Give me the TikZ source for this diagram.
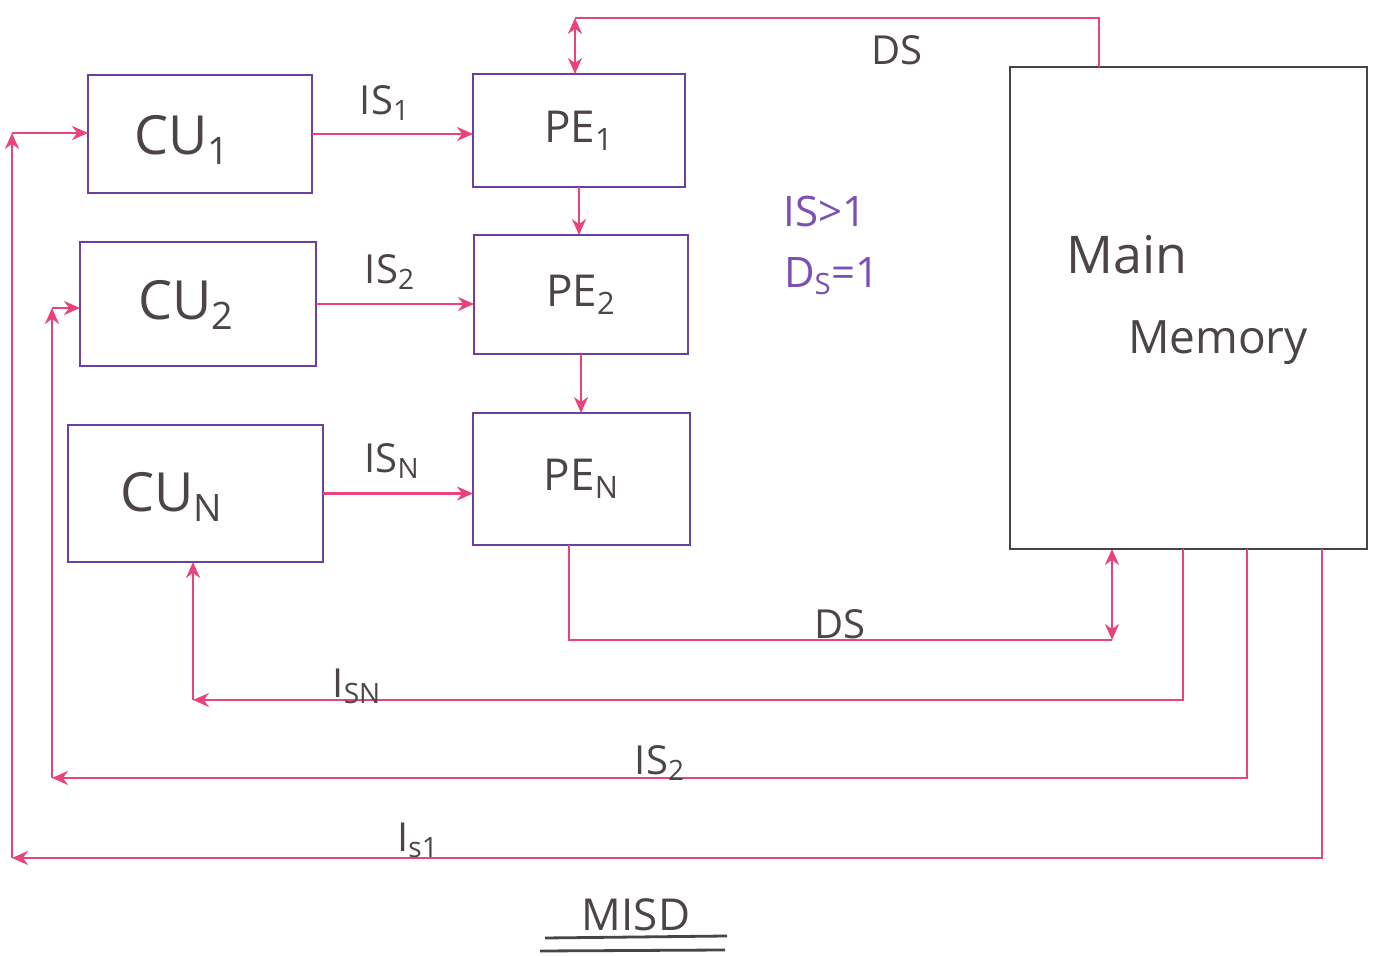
\documentclass[tikz,border=0pt]{standalone}
\usepackage{fontspec}
\setmainfont{Open Sans}
\usetikzlibrary{arrows.meta,calc}
\definecolor{pinkc}{HTML}{E8437A}
\definecolor{boxc}{HTML}{6B3FA0}
\definecolor{memc}{HTML}{4A4545}
\definecolor{txtc}{HTML}{4D4545}
\definecolor{purtxt}{HTML}{7B4FB5}
\begin{document}
\begin{tikzpicture}[x=0.5pt,y=-0.5pt,
  box/.style={draw=boxc,line width=1.4pt,inner sep=0pt,outer sep=0pt,text=txtc},
  membox/.style={draw=memc,line width=1.4pt,inner sep=0pt,outer sep=0pt},
  conn/.style={draw=pinkc,line width=1.2pt},
  tip/.style={-{Stealth[length=8pt,width=7pt]}},
  cutxt/.style={font=\fontsize{27}{32}\selectfont},
  petxt/.style={font=\fontsize{22}{26}\selectfont},
  lbl/.style={text=txtc,font=\fontsize{20}{24}\selectfont,inner sep=1pt},
  plbl/.style={text=purtxt,font=\fontsize{21}{25}\selectfont,inner sep=1pt}]
\useasboundingbox (0,0) rectangle (1373,956);
% boxes
\node[box,minimum width=112pt,minimum height=59pt] (CU1) at (200,134) {};
\node[box,minimum width=118pt,minimum height=62pt] (CU2) at (198,304) {};
\node[box,minimum width=127.5pt,minimum height=68.5pt] (CUN) at (195.5,493.5) {};
\node[box,petxt,minimum width=106pt,minimum height=56.5pt] (PE1) at (579,130.5) {PE\textsubscript{1}};
\node[box,petxt,minimum width=107pt,minimum height=59.5pt] (PE2) at (581,294.5) {PE\textsubscript{2}};
\node[box,petxt,minimum width=108.5pt,minimum height=66pt] (PEN) at (581.5,479) {PE\textsubscript{N}};
\node[membox,minimum width=178.5pt,minimum height=241pt] (MM) at (1188.5,308) {};
\node[text=txtc,cutxt] (cu1t) at (182,140) {CU\textsubscript{1}};
\node[text=txtc,cutxt] (cu2t) at (186,305) {CU\textsubscript{2}};
\node[text=txtc,cutxt] (cunt) at (172,497) {CU\textsubscript{N}};
\node[lbl,font=\fontsize{26}{30}\selectfont] (main) at (1127,255) {Main};
\node[lbl,font=\fontsize{23}{28}\selectfont] (memory) at (1218,343) {Memory};
% CU -> PE
\draw[conn,tip] (CU1.east) -- (CU1.east -| PE1.west);
\draw[conn,tip] (CU2.east) -- (CU2.east -| PE2.west);
\draw[conn,tip] (CUN.east) -- (CUN.east -| PEN.west);
\node[lbl] (l1) at (385,103) {IS\textsubscript{1}};
\node[lbl] (l2) at (390,272) {IS\textsubscript{2}};
\node[lbl] (l3) at (392,461) {IS\textsubscript{N}};
% PE chain
\draw[conn,tip] (PE1.south) -- (PE1.south |- PE2.north);
\draw[conn,tip] (PE2.south) -- (PE2.south |- PEN.north);
% DS top
\coordinate (dsA) at (575,18);
\coordinate (dsB) at (1099,18);
\draw[conn,{Stealth[length=8pt,width=7pt]}-{Stealth[length=8pt,width=7pt]}] (dsA) -- (dsA |- PE1.north);
\draw[conn] (dsA) -- (dsB) -- (dsB |- MM.north);
\node[lbl] (ds1) at (897,50) {DS};
\node[plbl] (is1) at (825,212) {IS>1};
\node[plbl] (ds1b) at (832,276) {D\textsubscript{S}=1};
% DS bottom
\coordinate (pb) at (569,545);
\coordinate (dsC) at (569,640);
\coordinate (dsD) at (1112,640);
\draw[conn] (pb) -- (dsC) -- (dsD);
\draw[conn,{Stealth[length=8pt,width=7pt]}-{Stealth[length=8pt,width=7pt]}] (dsD) -- (dsD |- MM.south);
\node[lbl] (ds2) at (840,624) {DS};
% IS_N return
\coordinate (nA) at (1183,549);
\coordinate (nB) at (1183,700);
\coordinate (nC) at (193,700);
\draw[conn,tip] (nA) -- (nB) -- (nC);
\draw[conn,tip] (nC) -- (nC |- CUN.south);
\node[lbl] (ln) at (357,686) {I\textsubscript{SN}};
% IS_2 return
\coordinate (tA) at (1247,549);
\coordinate (tB) at (1247,778);
\coordinate (tC) at (52,778);
\coordinate (tD) at (52,308);
\draw[conn,tip] (tA) -- (tB) -- (tC);
\draw[conn,tip] (tC) -- (tD);
\draw[conn,tip] (tD) -- (tD -| CU2.west);
\node[lbl] (l22) at (660,763) {IS\textsubscript{2}};
% IS_1 return
\coordinate (oA) at (1322,549);
\coordinate (oB) at (1322,858);
\coordinate (oC) at (12,858);
\coordinate (oD) at (12,133);
\draw[conn,tip] (oA) -- (oB) -- (oC);
\draw[conn,tip] (oC) -- (oD);
\draw[conn,tip] (oD) -- (oD -| CU1.west);
\node[lbl] (l11) at (418,840) {I\textsubscript{s1}};
% title
\node[lbl,font=\fontsize{22}{26}\selectfont] (title) at (636,915) {MISD};
\draw[draw=memc,line width=1.4pt] (545,938) -- (727,936);
\draw[draw=memc,line width=1.4pt] (540,951) -- (725,950);
\end{tikzpicture}
\end{document}
